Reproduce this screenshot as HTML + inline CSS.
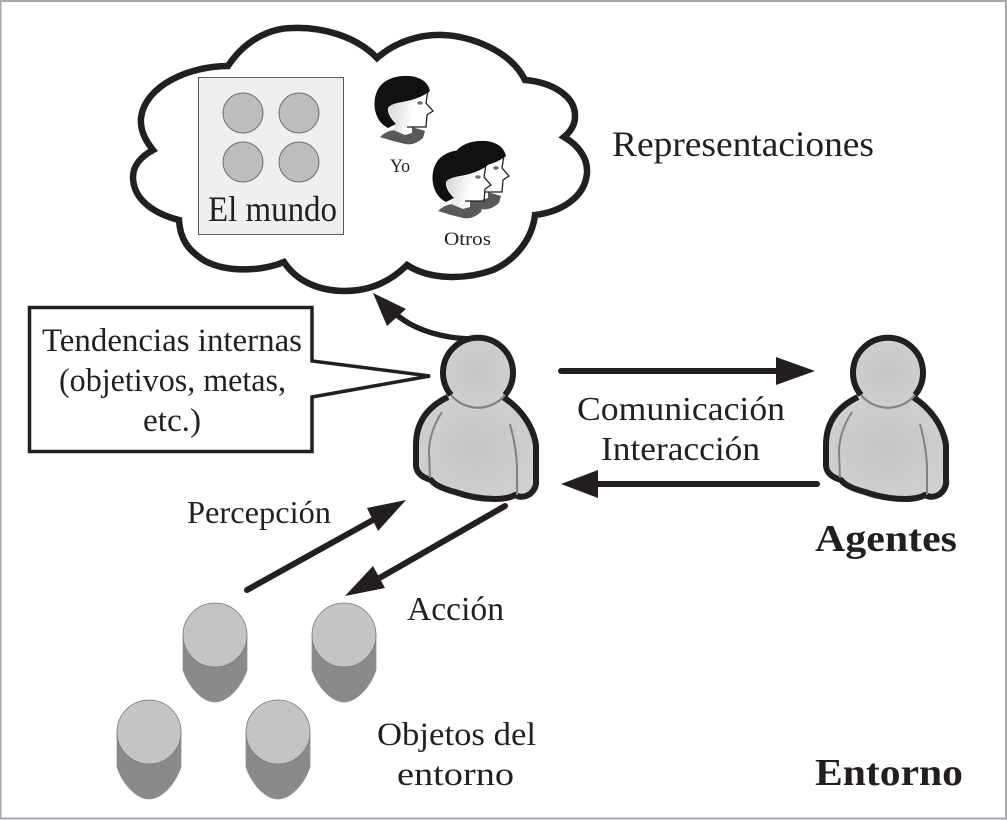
<!DOCTYPE html>
<html><head><meta charset="utf-8"><style>
html,body{margin:0;padding:0;background:#fff}
svg{display:block}
text{font-family:"Liberation Serif",serif;fill:#231f20}
</style></head><body>
<svg width="1007" height="820" viewBox="0 0 1007 820" xmlns="http://www.w3.org/2000/svg">
<defs>
<radialGradient id="pg" cx="50%" cy="50%" r="60%"><stop offset="0" stop-color="#c4c5c6"/><stop offset="1" stop-color="#d0d1d2"/></radialGradient>
<linearGradient id="fg" x1="0" y1="0" x2="1" y2="0.2"><stop offset="0" stop-color="#cfd0d1"/><stop offset="0.65" stop-color="#fff"/></linearGradient>
<g id="head">
<path d="M380 137Q386 131 394 130L398 126L412 127L425 131L423 138Q414 146 405 144Q392 141 380 137Z" fill="#58595b"/>
<path d="M388 105L428 90L426 103L433 111L427 115L425 127L412 127L412 133L405 135L393 130L396 123Q388 115 388 105Z" fill="url(#fg)"/>
<path d="M407 127H426L427 115L433 111L426 103L428 90" fill="none" stroke="#231f20" stroke-width="1.3"/>
<ellipse cx="420" cy="103" rx="2.8" ry="1.7" fill="#6d6e71"/>
<path d="M430 91Q427 78 410 76Q392 75 382 84Q374 92 374.500 106Q376 122 388 128L396 124Q387 115 388 108Q390 104 402 102Q420 99 430 91Z" fill="#111"/>
</g>
<g id="person">
<path d="M448 397C425 408 416 425 416 445L416 466Q417 476 431 480Q436 487 455 492Q475 499 495 499Q508 499 515 495Q522 499 530 494Q537 488 536 480L536 445C533 425 520 408 503 397" fill="url(#pg)" stroke="#231f20" stroke-width="6" stroke-linejoin="round"/>
<path d="M442 412Q429 432 429 452L430 478M510 424Q517 450 517 470L517 495" fill="none" stroke="#808285" stroke-width="2"/>
<circle cx="478" cy="373" r="35" fill="url(#pg)"/>
<path d="M451 395A35 35 0 1 1 505 395" fill="none" stroke="#231f20" stroke-width="6"/>
<path d="M505 395A35 35 0 0 1 451 395" fill="none" stroke="#808285" stroke-width="2.2"/>
</g>
<g id="cyl">
<path d="M0 32V67C6 85 20 99 32 99C44 99 58 85 64 67V32Z" fill="#898a8c" stroke="#8f9092" stroke-width="0.8"/>
<circle cx="32" cy="32" r="32" fill="#c3c4c5" stroke="#77787a" stroke-width="0.8"/>
</g>
</defs>
<rect width="1007" height="820" fill="#fff"/>
<rect x="0.5" y="1" width="1005.5" height="817.5" fill="none" stroke="#a7a9ac" stroke-width="2"/>

<!-- cloud -->
<path d="M228 66C245 40 270 28 293 28C320 27 355 35 377 58C395 42 420 34 443 35C470 36 510 50 525 80C550 82 576 95 575 117C575 125 570 132 564 137C578 145 588 158 587 173C585 198 560 212 535 215C532 240 515 260 493 270C465 280 430 280 407 265C390 282 370 291 345 291C320 291 297 282 284 262C265 270 230 274 205 261C187 250 180 238 179 220C155 214 133 200 133 177C133 165 142 156 153 150C145 140 140 130 141 118C145 85 190 66 228 66Z" fill="#fff" stroke="#231f20" stroke-width="6.5" stroke-linejoin="miter"/>
<rect x="198.500" y="77.500" width="145" height="157" fill="#eeeff0" stroke="#58595b" stroke-width="1"/>
<g fill="#bcbdbf" stroke="#6d6e71" stroke-width="1"><circle cx="243" cy="113" r="20"/><circle cx="299" cy="113" r="20"/><circle cx="243" cy="162" r="20"/><circle cx="299" cy="162" r="20"/></g>
<text x="208" y="221" font-size="36" textLength="129" lengthAdjust="spacingAndGlyphs">El mundo</text>
<use href="#head"/>
<use href="#head" x="76" y="65"/>
<use href="#head" x="58" y="74"/>
<text x="390" y="172" font-size="19" textLength="20" lengthAdjust="spacingAndGlyphs">Yo</text>
<text x="444" y="245" font-size="19" textLength="47" lengthAdjust="spacingAndGlyphs">Otros</text>
<text x="612" y="156" font-size="36" textLength="262" lengthAdjust="spacingAndGlyphs">Representaciones</text>

<!-- callout -->
<path d="M312 361V307.500H29.500V451.500H312V397L430 376Z" fill="#fff" stroke="#231f20" stroke-width="3.500" stroke-linejoin="miter"/>
<text x="42" y="351" font-size="33" textLength="260" lengthAdjust="spacingAndGlyphs">Tendencias internas</text>
<text x="59" y="391" font-size="33" textLength="227" lengthAdjust="spacingAndGlyphs">(objetivos, metas,</text>
<text x="143" y="431" font-size="33" textLength="58" lengthAdjust="spacingAndGlyphs">etc.)</text>

<!-- curved arrow -->
<path d="M482 339Q440 340 410 324Q398 317 390 309" fill="none" stroke="#231f20" stroke-width="5.500"/>
<polygon points="373,293 406,309 387,326" fill="#231f20"/>

<use href="#person"/>
<use href="#person" x="410" y="0"/>

<!-- straight arrows -->
<path d="M561 371H780" stroke="#231f20" stroke-width="6" stroke-linecap="round"/>
<polygon points="776,357 815,371 776,385" fill="#231f20"/>
<path d="M817 484H596" stroke="#231f20" stroke-width="6" stroke-linecap="round"/>
<polygon points="598,470 561,484 598,498" fill="#231f20"/>
<path d="M247 590L382 515" stroke="#231f20" stroke-width="6" stroke-linecap="round"/>
<polygon points="406,500 367,508 378,531" fill="#231f20"/>
<path d="M505 506L376 580" stroke="#231f20" stroke-width="6" stroke-linecap="round"/>
<polygon points="345,596 373,566 385,588" fill="#231f20"/>

<text x="577" y="420" font-size="34" textLength="208" lengthAdjust="spacingAndGlyphs">Comunicación</text>
<text x="601" y="460" font-size="34" textLength="159" lengthAdjust="spacingAndGlyphs">Interacción</text>
<text x="815" y="551" font-size="38" font-weight="bold" textLength="142" lengthAdjust="spacingAndGlyphs">Agentes</text>
<text x="187" y="523" font-size="32" textLength="144" lengthAdjust="spacingAndGlyphs">Percepción</text>
<text x="407" y="620" font-size="34" textLength="97" lengthAdjust="spacingAndGlyphs">Acción</text>
<text x="377" y="745" font-size="33" textLength="159" lengthAdjust="spacingAndGlyphs">Objetos del</text>
<text x="397" y="785" font-size="33" textLength="117" lengthAdjust="spacingAndGlyphs">entorno</text>
<text x="815" y="785" font-size="38" font-weight="bold" textLength="148" lengthAdjust="spacingAndGlyphs">Entorno</text>

<use href="#cyl" x="183" y="603"/>
<use href="#cyl" x="312" y="603"/>
<use href="#cyl" x="117" y="700"/>
<use href="#cyl" x="246" y="700"/>
</svg>
</body></html>
